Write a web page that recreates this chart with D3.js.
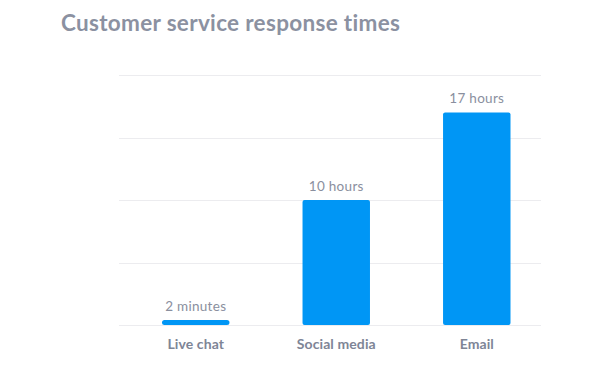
<!DOCTYPE html>
<html>
<head>
<meta charset="utf-8">
<script src="https://cdn.jsdelivr.net/npm/d3@7"></script>
<style>
  html, body { margin: 0; padding: 0; background: #ffffff; }
  svg { display: block; }
</style>
</head>
<body>
<svg id="chart" width="608" height="381"></svg>
<script>
const title = "Customer service response times";
const categories = ["Live chat", "Social media", "Email"];
const valuesHours = [2 / 60, 10, 17];
const valueLabels = ["2 minutes", "10 hours", "17 hours"];
const gridTicks = [0, 5, 10, 15, 20];

const svg = d3.select("#chart");

const y = d3.scaleLinear().domain([0, 20]).range([325, 75]);
const x = d3.scaleBand().domain(categories).range([162, 510.5]).paddingInner(0.52).paddingOuter(0);

// title
svg.append("text")
  .attr("x", 61)
  .attr("y", 31)
  .attr("font-family", "Lato, 'Open Sans', sans-serif")
  .attr("font-weight", 700)
  .attr("font-size", 22.5)
  .attr("letter-spacing", 0.32)
  .attr("fill", "#8b91a1")
  .text(title);

// gridlines
svg.append("g")
  .selectAll("line")
  .data(gridTicks)
  .join("line")
  .attr("x1", 119)
  .attr("x2", 541)
  .attr("y1", d => Math.round(y(d)) + 0.5)
  .attr("y2", d => Math.round(y(d)) + 0.5)
  .attr("stroke", "#ececef")
  .attr("stroke-width", 1);

const minH = 5;
const barH = d => Math.max(y(0) - y(d), minH);

// bars
svg.append("g")
  .selectAll("rect")
  .data(valuesHours)
  .join("rect")
  .attr("x", (d, i) => x(categories[i]))
  .attr("width", x.bandwidth())
  .attr("y", d => y(0) - barH(d))
  .attr("height", d => barH(d))
  .attr("rx", d => barH(d) <= minH ? 2.5 : 2)
  .attr("fill", "#0096f5");

// value labels
svg.append("g")
  .selectAll("text")
  .data(valuesHours)
  .join("text")
  .attr("x", (d, i) => x(categories[i]) + x.bandwidth() / 2)
  .attr("y", d => y(0) - barH(d) - 9.5)
  .attr("text-anchor", "middle")
  .attr("font-family", "Lato, 'Open Sans', sans-serif")
  .attr("font-size", 13.5)
  .attr("letter-spacing", 0.3)
  .attr("fill", "#8a8f9e")
  .text((d, i) => valueLabels[i]);

// x axis labels
const xAxis = d3.axisBottom(x).tickSize(0).tickPadding(0);
const gx = svg.append("g").attr("transform", "translate(0,349)").call(xAxis);
gx.select(".domain").remove();
gx.selectAll("text")
  .attr("dy", 0)
  .attr("font-family", "Lato, 'Open Sans', sans-serif")
  .attr("font-weight", 700)
  .attr("font-size", 14)
  .attr("letter-spacing", 0.1)
  .attr("fill", "#7e8596");
</script>
</body>
</html>
